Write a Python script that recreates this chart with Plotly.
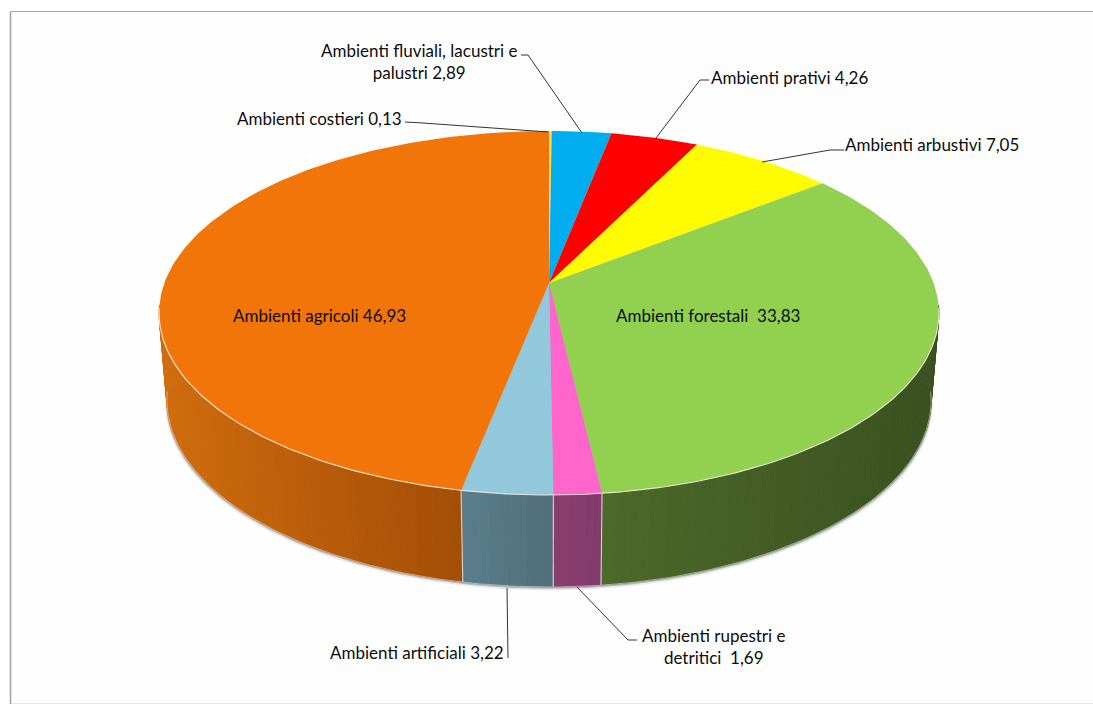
import numpy as np
import plotly.graph_objects as go

# ---- data -------------------------------------------------------------
categories = ["Ambienti costieri", "Ambienti fluviali, lacustri e palustri",
              "Ambienti prativi", "Ambienti arbustivi", "Ambienti forestali",
              "Ambienti rupestri e detritici", "Ambienti artificiali",
              "Ambienti agricoli"]
values = [0.13, 2.89, 4.26, 7.05, 33.83, 1.69, 3.22, 46.93]
top_colors = ["#FFDC50", "#00ADEF", "#FF0000", "#FFFB00", "#92D050",
              "#FF66CC", "#92C8DC", "#F2750A"]
wall_colors = [((200, 170, 60), (200, 170, 60)), ((0, 110, 150), (0, 110, 150)),
               ((150, 0, 0), (150, 0, 0)), ((150, 150, 0), (150, 150, 0)),
               ((76, 106, 42), (58, 80, 30)),
               ((138, 62, 112), (130, 58, 108)), ((92, 126, 140), (80, 110, 124)),
               ((208, 108, 14), (163, 78, 6))]

# ---- pie projection ----------------------------------------------------
CX, AY = 549.0, 283.0
K, A, B = 0.1648, 177.05, 384.6
VISIBLE_COS = -0.12


def top_xy(theta):
    u, v = np.sin(theta), np.cos(theta)
    s = 1 + K * v
    return CX + B * u / s, AY - A * v / s


def bot_xy(theta):
    x, y = top_xy(theta)
    return CX + 0.98 * (x - CX), 400 + 1.0275 * (y - 313)


fig = go.Figure()


def poly(x, y, fill, line=None, width=0):
    fig.add_trace(go.Scatter(x=x, y=y, mode="lines", fill="toself", fillcolor=fill,
                             line=dict(color=line or fill, width=width),
                             hoverinfo="skip", showlegend=False))


def stroke(x, y, color, width=1.0):
    fig.add_trace(go.Scatter(x=x, y=y, mode="lines", line=dict(color=color, width=width),
                             hoverinfo="skip", showlegend=False))


edges = np.cumsum([0] + values) / sum(values) * 2 * np.pi

# soft shadow below the disc
full = np.linspace(np.radians(95), np.radians(265), 200)
bx, by = bot_xy(full)
for off, col in [(3.5, "rgba(120,130,140,0.16)"), (1.8, "rgba(90,95,100,0.35)")]:
    poly(np.r_[CX, CX + (bx - CX) * (1 + off / 800), CX],
         np.r_[AY, by + off, AY], col)

# walls: thin strips shaded across the screen width
for i, (a0, a1) in enumerate(zip(edges[:-1], edges[1:])):
    th = np.linspace(a0, a1, max(2, int((a1 - a0) / np.radians(1.2)) + 2))
    th = th[np.cos(th) < VISIBLE_COS]
    if len(th) < 2:
        continue
    tx, ty = top_xy(th)
    ux, uy = bot_xy(th)
    c0, c1 = wall_colors[i]
    lo, hi = min(tx.min(), ux.min()), max(tx.max(), ux.max())
    for j in range(len(th) - 1):
        f = ((tx[j] + tx[j + 1]) / 2 - lo) / (hi - lo)
        rgb = [int(round(c0[n] + (c1[n] - c0[n]) * f)) for n in range(3)]
        col = f"rgb({rgb[0]},{rgb[1]},{rgb[2]})"
        poly([tx[j], tx[j + 1], ux[j + 1], ux[j], tx[j]],
             [ty[j], ty[j + 1], uy[j + 1], uy[j], ty[j]], col, col, 0.8)

# pale outline of the wall bottom and separators between walls
th = np.linspace(np.arccos(VISIBLE_COS), 2 * np.pi - np.arccos(VISIBLE_COS), 200)
bx2, by2 = bot_xy(th)
stroke(bx2, by2, "rgba(235,225,215,0.55)", 1)
for a in edges[5:8]:
    tx, ty = top_xy(np.array([a]))
    ux, uy = bot_xy(np.array([a]))
    stroke([tx[0], ux[0]], [ty[0], uy[0]], "rgba(225,225,225,0.9)", 1.1)

# top face
for i, (a0, a1) in enumerate(zip(edges[:-1], edges[1:])):
    th = np.linspace(a0, a1, max(3, int((a1 - a0) / np.radians(1)) + 2))
    x, y = top_xy(th)
    poly(np.r_[CX, x, CX], np.r_[AY, y, AY], top_colors[i])

# pale rim along the front of the top face
th = np.linspace(np.radians(98), np.radians(262), 200)
rx, ry = top_xy(th)
stroke(rx, ry, "rgba(255,245,230,0.85)", 1.1)

# leader lines
leaders = [
    ([405, 423, 548], [122, 123, 132]),
    ([521, 528, 582], [55, 55, 133]),
    ([709, 700, 656], [80, 80, 138]),
    ([844, 830, 762], [150, 150, 162]),
    ([637, 628, 577], [640, 640, 587]),
    ([508, 507], [658, 588]),
]
for lx, ly in leaders:
    stroke(lx, ly, "#333333", 1)

# ---- layout ------------------------------------------------------------
FONT = dict(family="Lato, Carlito, sans-serif", size=17, color="#0c0c0c")
labels = [
    ("Ambienti fluviali, lacustri e<br>palustri 2,89", 419, 61),
    ("Ambienti costieri 0,13", 319, 118),
    ("Ambienti prativi 4,26", 789, 77),
    ("Ambienti arbustivi 7,05", 932, 144),
    ("Ambienti forestali  33,83", 708, 315),
    ("Ambienti agricoli 46,93", 319, 315),
    ("Ambienti rupestri e<br>detritici  1,69", 713, 646),
    ("Ambienti artificiali 3,22", 417, 652),
]
annotations = [dict(x=x, y=y, text=t, showarrow=False, align="center", xanchor="center",
                    yanchor="middle", font=FONT) for t, x, y in labels]

fig.update_layout(
    width=1093, height=704, margin=dict(l=0, r=0, t=0, b=0),
    paper_bgcolor="white", plot_bgcolor="white", showlegend=False,
    xaxis=dict(range=[0, 1093], visible=False, fixedrange=True),
    yaxis=dict(range=[704, 0], visible=False, fixedrange=True),
    annotations=annotations,
    shapes=[dict(type="rect", x0=10.5, y0=11.5, x1=1110, y1=703.5,
                 fillcolor="#FEFEFE", line=dict(width=0), layer="below"),
            dict(type="line", x0=10.5, y0=703.5, x1=1093, y1=703.5,
                 line=dict(color="#E6E6E6", width=1), layer="below"),
            dict(type="line", x0=10.5, y0=11.5, x1=1093, y1=11.5,
                 line=dict(color="#A6A6A6", width=1.2), layer="below"),
            dict(type="line", x0=10.5, y0=11.5, x1=10.5, y1=704,
                 line=dict(color="#A6A6A6", width=1.6), layer="below")],
)
fig.write_html("out.html", config=dict(displayModeBar=False),
               post_script="document.body.style.margin='0';document.body.style.overflow='hidden';")
